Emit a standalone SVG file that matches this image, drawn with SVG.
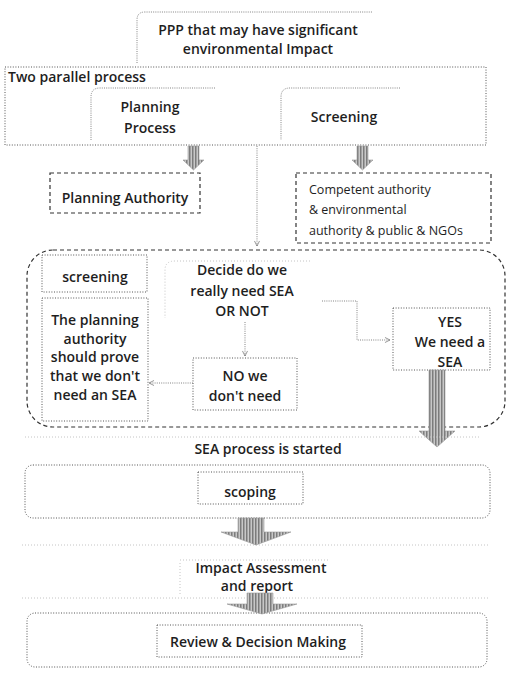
<svg xmlns="http://www.w3.org/2000/svg" width="512" height="684" viewBox="0 0 512 684">
  <style>
    text { font-family: "Open Sans", "Liberation Sans", sans-serif; fill: #1e1e1e; font-size: 14px; font-weight: 600; }
    .c { text-anchor: middle; }
    .sm { font-size: 12.5px; font-weight: 400; }
    .dot { fill: none; stroke: #555; stroke-width: 1; stroke-dasharray: 1 1.6; }
    .dash { fill: none; stroke: #333; stroke-width: 1.2; stroke-dasharray: 4 3; }
    .faint { fill: none; stroke: #c4c4c4; stroke-width: 1; stroke-dasharray: 1 2; }
    .thin { fill: none; stroke: #777; stroke-width: 0.9; stroke-dasharray: 1 1.2; }
    .big { fill: url(#stripes); stroke: #999; stroke-width: 0.6; }
  </style>
  <defs>
    <pattern id="stripes" width="3" height="3" patternUnits="userSpaceOnUse">
      <rect width="3" height="3" fill="#c8c8c8"/>
      <rect width="1.5" height="3" fill="#7c7c7c"/>
    </pattern>
    <marker id="tip" viewBox="0 0 10 10" refX="9" refY="5" markerWidth="7" markerHeight="7" orient="auto">
      <path d="M1 1 L9 5 L1 9" fill="none" stroke="#777" stroke-width="1.2"/>
    </marker>
  </defs>

  <rect width="512" height="684" fill="#ffffff"/>

  <!-- top node -->
  <g id="ppp">
    <path class="thin" d="M137 63 L137 20 Q137 12 145 12 L372 12" stroke="#bbb"/>
    <text class="c" x="258" y="35" font-size="14.5">PPP that may have significant</text>
    <text class="c" x="258" y="54" font-size="14.5">environmental Impact</text>
  </g>

  <!-- two parallel processes -->
  <g id="parallel">
    <rect class="dot" x="5" y="67" width="481" height="78"/>
    <text x="8" y="82" font-size="15">Two parallel process</text>
  </g>
  <g id="planning-process">
    <path class="thin" d="M215 88 L100 88 Q91 88 91 97 L91 140"/>
    <text class="c" x="150" y="112">Planning</text>
    <text class="c" x="150" y="133">Process</text>
  </g>
  <g id="screening-top">
    <path class="thin" d="M400 88 L290 88 Q281 88 281 97 L281 140"/>
    <text class="c" x="344" y="122">Screening</text>
  </g>

  <g id="planning-authority">
    <rect class="dash" x="50" y="173" width="150" height="40"/>
    <text class="c" x="125" y="203" font-size="13.5">Planning Authority</text>
  </g>
  <g id="competent">
    <rect class="dash" x="296" y="173" width="195" height="70"/>
    <text class="sm" x="309" y="194">Competent authority</text>
    <text class="sm" x="309" y="214">&amp; environmental</text>
    <text class="sm" x="309" y="235">authority &amp; public &amp; NGOs</text>
  </g>

  <!-- screening stage -->
  <g id="screening-stage">
    <rect class="dash" x="27" y="250" width="478" height="177" rx="26"/>
  </g>
  <g id="screening">
    <rect class="dot" x="42" y="255" width="105" height="37"/>
    <text class="c" x="95" y="282">screening</text>
  </g>
  <g id="prove">
    <rect class="dot" x="42" y="298" width="106" height="123"/>
    <text class="c" x="95" y="325" font-size="13">The planning</text>
    <text class="c" x="95" y="344" font-size="13">authority</text>
    <text class="c" x="95" y="362" font-size="13">should prove</text>
    <text class="c" x="95" y="381" font-size="13">that we don't</text>
    <text class="c" x="95" y="400" font-size="13">need an SEA</text>
  </g>
  <g id="decide">
    <path class="faint" d="M310 261 L175 261 Q165 261 165 270 L165 318" stroke="#999"/>
    <text class="c" x="242" y="275">Decide do we</text>
    <text class="c" x="242" y="296">really need SEA</text>
    <text class="c" x="242" y="316">OR NOT</text>
  </g>
  <g id="no">
    <rect class="dot" x="193" y="358" width="104" height="52"/>
    <text class="c" x="245" y="381">NO we</text>
    <text class="c" x="245" y="401">don't need</text>
  </g>
  <g id="yes">
    <rect class="dot" x="393" y="308" width="97" height="62"/>
    <text class="c" x="450" y="327">YES</text>
    <text class="c" x="450" y="347">We need a</text>
    <text class="c" x="450" y="367">SEA</text>
  </g>

  <text id="sea-started" class="c" x="268" y="454">SEA process is started</text>

  <!-- later stages -->
  <g id="scoping">
    <rect class="dot" x="25" y="465" width="465" height="53" rx="8"/>
    <rect class="dot" x="198" y="472" width="105" height="32"/>
    <text class="c" x="250" y="497">scoping</text>
  </g>
  <g id="impact">
    <path class="faint" d="M22 545 L490 545 M180 560 L330 560 M180 563 L180 595 M22 598 L490 598"/>
    <text class="c" x="261" y="573">Impact Assessment</text>
    <text class="c" x="257" y="591">and report</text>
  </g>
  <g id="review">
    <rect class="dot" x="27" y="613" width="460" height="54" rx="8"/>
    <rect class="dot" x="157" y="625" width="205" height="32"/>
    <text class="c" x="258" y="647" font-size="14.5">Review &amp; Decision Making</text>
  </g>

  <!-- connectors -->
  <g id="connectors">
    <path class="big" d="M188 146 H199 V160 H204 L193.5 170 L183 160 H188 Z"/>
    <path class="big" d="M357 146 H368 V160 H373 L362.5 170 L352 160 H357 Z"/>
    <path class="thin" d="M257 146 V246" marker-end="url(#tip)"/>
    <path class="thin" d="M245 322 V356" marker-end="url(#tip)"/>
    <path class="thin" d="M193 383 H149" marker-end="url(#tip)"/>
    <path class="thin" d="M322 301 H357 V340 H390" marker-end="url(#tip)"/>
    <path class="big" d="M429 370 H445 V431 H455 L437 447 L419 431 H429 Z"/>
    <path class="faint" d="M25 437 H480"/>
    <path class="big" d="M238 518 H264 V532 H291 L256 545 L221 532 H238 Z"/>
    <path class="big" d="M247 593 H273 V604 H297 L262 614 L227 604 H247 Z"/>
  </g>
</svg>
